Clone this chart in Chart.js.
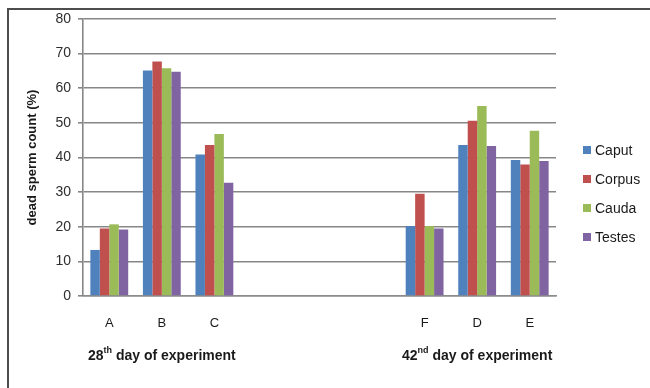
<!DOCTYPE html>
<html>
<head>
<meta charset="utf-8">
<script src="https://cdn.jsdelivr.net/npm/chart.js@4.4.1/dist/chart.umd.min.js"></script>
<style>
body { margin: 0; background: #fff; }
#wrap { position: relative; width: 650px; height: 388px; overflow: hidden; }
#frame { position: absolute; left: 7px; top: 8px; right: -10px; bottom: -10px;
  border-left: 2px solid #4d4d4d; border-top: 2px solid #4d4d4d; pointer-events: none; }
</style>
</head>
<body>
<div id="wrap">
  <canvas id="deadChart" width="650" height="388"></canvas>
  <div id="frame"></div>
</div>
<script>
// groups A-C are the 28th day, F, D, E the 42nd day; empty slots keep the gap
var groups = ['A', 'B', 'C', '', '', '', 'F', 'D', 'E'];
var caput  = [13.3, 65.1, 40.9, null, null, null, 20.2, 43.6, 39.3];
var corpus = [19.5, 67.7, 43.6, null, null, null, 29.5, 50.6, 38.0];
var cauda  = [20.7, 65.8, 46.8, null, null, null, 20.2, 54.9, 47.7];
var testes = [19.2, 64.8, 32.7, null, null, null, 19.5, 43.3, 39.0];
var yTicks = [0, 10, 20, 30, 40, 50, 60, 70, 80];

var dayLabels = [
    { from: 'A', to: 'C', num: '28', sup: 'th', rest: ' day of experiment' },
    { from: 'F', to: 'E', num: '42', sup: 'nd', rest: ' day of experiment' }
];

Chart.defaults.font.family = '"Liberation Sans", Arial, sans-serif';

// day-of-experiment captions under each group
const dayCaptions = {
    id: 'dayCaptions',
    afterDraw(chart) {
        const ctx = chart.ctx;
        const xs = chart.scales.x;
        const y = chart.chartArea.bottom + 60;
        const big = 'bold 14px "Liberation Sans", Arial, sans-serif';
        const small = 'bold 9px "Liberation Sans", Arial, sans-serif';
        ctx.save();
        ctx.fillStyle = '#1a1a1a';
        ctx.textBaseline = 'middle';
        ctx.textAlign = 'left';
        dayLabels.forEach(function (d) {
            const cx = (xs.getPixelForValue(groups.indexOf(d.from)) + xs.getPixelForValue(groups.indexOf(d.to))) / 2;
            ctx.font = big;
            const w1 = ctx.measureText(d.num).width;
            const w3 = ctx.measureText(d.rest).width;
            ctx.font = small;
            const w2 = ctx.measureText(d.sup).width;
            let x = cx - (w1 + w2 + w3) / 2;
            ctx.font = big;
            ctx.fillText(d.num, x, y);
            ctx.font = small;
            ctx.fillText(d.sup, x + w1, y - 5);
            ctx.font = big;
            ctx.fillText(d.rest, x + w1 + w2, y);
        });
        ctx.restore();
    }
};

// legend on the right, drawn by hand so it sits lower than centre
const sideLegend = {
    id: 'sideLegend',
    afterDraw(chart) {
        const ctx = chart.ctx;
        const x = chart.chartArea.right + 27;
        let y = chart.chartArea.top + 131;
        ctx.save();
        ctx.font = '14px "Liberation Sans", Arial, sans-serif';
        ctx.textBaseline = 'middle';
        chart.data.datasets.forEach(function (ds) {
            ctx.fillStyle = ds.backgroundColor;
            ctx.fillRect(x, y - 4, 8, 8);
            ctx.fillStyle = '#1a1a1a';
            ctx.fillText(ds.label, x + 12, y + 1);
            y += 29;
        });
        ctx.restore();
    }
};

const ctx = document.getElementById('deadChart').getContext('2d');
const deadChart = new Chart(ctx, {
    type: 'bar',
    data: {
        labels: groups,
        datasets: [
            { label: 'Caput',  data: caput,  backgroundColor: '#4f81bd' },
            { label: 'Corpus', data: corpus, backgroundColor: '#c0504d' },
            { label: 'Cauda',  data: cauda,  backgroundColor: '#9bbb59' },
            { label: 'Testes', data: testes, backgroundColor: '#8064a2' }
        ]
    },
    options: {
        responsive: false,
        animation: false,
        categoryPercentage: 0.72,
        barPercentage: 1.0,
        layout: { padding: { top: 19, right: 94, left: 21, bottom: 0 } },
        plugins: {
            legend: { display: false },
            tooltip: { enabled: false }
        },
        scales: {
            x: {
                grid: { display: false, drawTicks: false },
                border: { color: '#8c8c8c', width: 1.5 },
                ticks: { color: '#1a1a1a', font: { size: 13 }, padding: 20, autoSkip: false, maxRotation: 0 },
                afterFit: function (scale) { scale.height = 92; }
            },
            y: {
                min: 0,
                max: 80,
                afterBuildTicks: function (scale) {
                    scale.ticks = yTicks.map(function (v) { return { value: v }; });
                },
                grid: { color: '#878787', lineWidth: 1.6, tickLength: 5 },
                border: { color: '#878787', width: 1.6 },
                ticks: { color: '#2e2e2e', font: { size: 14 }, padding: 7 },
                title: {
                    display: true,
                    text: 'dead sperm count (%)',
                    color: '#1a1a1a',
                    font: { size: 13, weight: 'bold' },
                    padding: { top: 4, bottom: 0 }
                },
                afterFit: function (scale) { scale.width = 62; }
            }
        }
    },
    plugins: [dayCaptions, sideLegend]
});
</script>
</body>
</html>
